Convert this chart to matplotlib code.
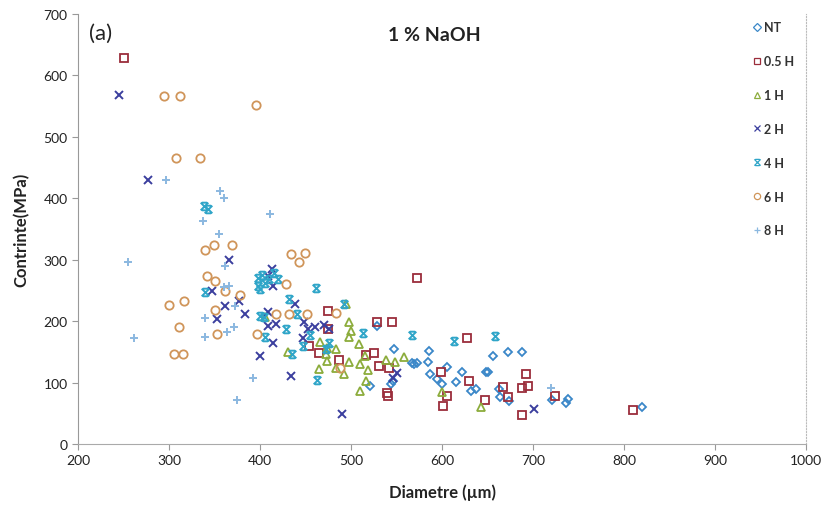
import matplotlib
matplotlib.use("Agg")
import matplotlib.pyplot as plt
from matplotlib.path import Path
from matplotlib.lines import Line2D

plt.rcParams['font.family'] = ['Lato', 'DejaVu Sans']

# ---------------- data ----------------
nt_x = [529, 547, 546, 544, 521, 567, 573, 586, 585, 569, 587, 595, 600, 605, 615, 622,
        632, 637, 648, 650, 656, 673, 688, 663, 664, 674, 721, 736, 738, 820]
nt_y = [192, 155, 103, 98, 95, 132, 132, 151, 133, 131, 114, 106, 98, 126, 101, 117,
        86, 89, 117, 117, 143, 150, 150, 90, 76, 70, 72, 67, 73, 60]

h05_x = [250, 573, 529, 545, 627, 475, 475, 454, 465, 487, 516, 525, 531, 542, 540, 541,
         599, 605, 601, 630, 647, 667, 673, 692, 695, 688, 688, 724, 810]
h05_y = [628, 270, 198, 198, 173, 216, 187, 159, 148, 137, 145, 148, 127, 123, 83, 78,
         117, 78, 62, 103, 72, 93, 76, 114, 94, 91, 47, 78, 55]

h1_x = [498, 500, 498, 509, 515, 510, 519, 517, 510, 466, 474, 484, 465, 474, 484, 492,
        539, 548, 558, 498, 495, 431, 600, 643, 406, 472]
h1_y = [199, 184, 174, 163, 143, 130, 121, 103, 86, 166, 156, 155, 122, 135, 123, 114,
        137, 134, 142, 133, 228, 150, 85, 60, 207, 146]

h2_x = [245, 277, 366, 347, 377, 439, 362, 353, 384, 409, 409, 418, 414, 400, 434, 490,
        448, 453, 447, 460, 470, 476, 551, 546, 701, 414, 413, 409]
h2_y = [568, 430, 300, 249, 233, 228, 225, 203, 212, 215, 192, 195, 165, 143, 111, 49,
        199, 188, 172, 190, 193, 188, 115, 107, 57, 257, 285, 274]

h4_x = [338, 343, 340, 400, 405, 410, 398, 402, 415, 420, 461, 432, 492, 441, 400, 404,
        406, 429, 435, 463, 447, 455, 476, 472, 567, 513, 613, 658, 398]
h4_y = [388, 383, 248, 252, 262, 268, 270, 275, 278, 268, 254, 236, 228, 212, 209, 207,
        174, 187, 147, 104, 160, 178, 165, 155, 178, 181, 168, 176, 258]

h6_x = [294, 312, 396, 308, 334, 340, 349, 369, 434, 449, 443, 342, 351, 361, 378, 429,
        418, 432, 452, 483, 351, 353, 397, 488, 300, 311, 316, 305, 315]
h6_y = [566, 566, 552, 466, 466, 316, 324, 324, 309, 311, 296, 273, 265, 249, 243, 260,
        212, 211, 211, 213, 218, 179, 179, 123, 227, 190, 232, 147, 147]

h8_x = [356, 360, 337, 411, 355, 362, 366, 360, 373, 364, 371, 392, 375, 297, 262, 255,
        720, 340, 340]
h8_y = [412, 400, 363, 375, 342, 290, 257, 255, 225, 182, 190, 107, 72, 430, 173, 297,
        91, 205, 175]

labels = ['NT', '0.5 H', '1 H', '2 H', '4 H', '6 H', '8 H']
x_ticks = [200, 300, 400, 500, 600, 700, 800, 900, 1000]
y_ticks = [0, 100, 200, 300, 400, 500, 600, 700]

# custom "x with bars" marker (Excel star-like)
xbar = Path([(-1, -1), (1, 1), (-1, 1), (1, -1), (-0.7, 1), (0.7, 1), (-0.7, -1), (0.7, -1)],
            [Path.MOVETO, Path.LINETO, Path.MOVETO, Path.LINETO,
             Path.MOVETO, Path.LINETO, Path.MOVETO, Path.LINETO])

series = [
    (nt_x, nt_y, 'D', '#3a87c8', 4.5, True),
    (h05_x, h05_y, 's', '#9b2d3b', 6.0, True),
    (h1_x, h1_y, '^', '#8cac3c', 6.0, True),
    (h2_x, h2_y, 'x', '#3b3f9e', 5.5, False),
    (h4_x, h4_y, xbar, '#2fa5c8', 5.5, False),
    (h6_x, h6_y, 'o', '#d0955a', 6.0, True),
    (h8_x, h8_y, '+', '#8bb8e0', 6.0, False),
]

fig = plt.figure(figsize=(8.22, 5.10), dpi=100)
ax = fig.add_axes([78 / 822, 65 / 510, 728 / 822, 430 / 510])

for (xs, ys, mk, col, ms, hollow), lab in zip(series, labels):
    if hollow:
        ax.plot(xs, ys, linestyle='none', marker=mk, markersize=ms,
                markerfacecolor='none', markeredgecolor=col, markeredgewidth=1.3,
                label=lab)
    else:
        ax.plot(xs, ys, linestyle='none', marker=mk, markersize=ms,
                color=col, markeredgewidth=1.4, label=lab)

ax.set_xlim(200, 1000)
ax.set_ylim(0, 700)
ax.set_xticks(x_ticks)
ax.set_yticks(y_ticks)
ax.tick_params(axis='both', labelsize=10, labelcolor='#222222', length=4, width=0.8,
               color='#999999')
ax.spines['top'].set_visible(False)
ax.spines['right'].set_linestyle(':')
ax.spines['right'].set_color('#bbbbbb')
ax.spines['left'].set_color('#999999')
ax.spines['bottom'].set_color('#aaaaaa')
ax.spines['bottom'].set_linestyle((0, (1.5, 1)))

ax.set_xlabel('Diametre (µm)', fontsize=12, fontweight='bold', color='#222222', labelpad=12)
ax.set_ylabel('Contrinte(MPa)', fontsize=12, fontweight='bold', color='#222222', labelpad=10)

ax.text(0.015, 0.955, '(a)', transform=ax.transAxes, fontsize=16, color='#222222',
        va='center', ha='left')
ax.text(0.49, 0.953, '1 % NaOH', transform=ax.transAxes, fontsize=14, fontweight='bold',
        color='#222222', va='center', ha='center')

leg_handles = []
for (xs, ys, mk, col, ms, hollow), lab in zip(series, labels):
    if hollow:
        lh = Line2D([], [], linestyle='none', marker=mk, markersize=4.5,
                    markerfacecolor='none', markeredgecolor=col, markeredgewidth=0.9)
    else:
        lh = Line2D([], [], linestyle='none', marker=mk, markersize=4.5, color=col,
                    markeredgewidth=0.9)
    leg_handles.append(lh)
leg = ax.legend(leg_handles, labels, loc='upper left', bbox_to_anchor=(0.92, 0.995),
                frameon=False, fontsize=9, labelspacing=1.75, handlelength=0.6,
                handletextpad=0.3, borderaxespad=0)
for t in leg.get_texts():
    t.set_fontweight('bold')
    t.set_color('#333333')

fig.savefig('out.png', dpi=100)
